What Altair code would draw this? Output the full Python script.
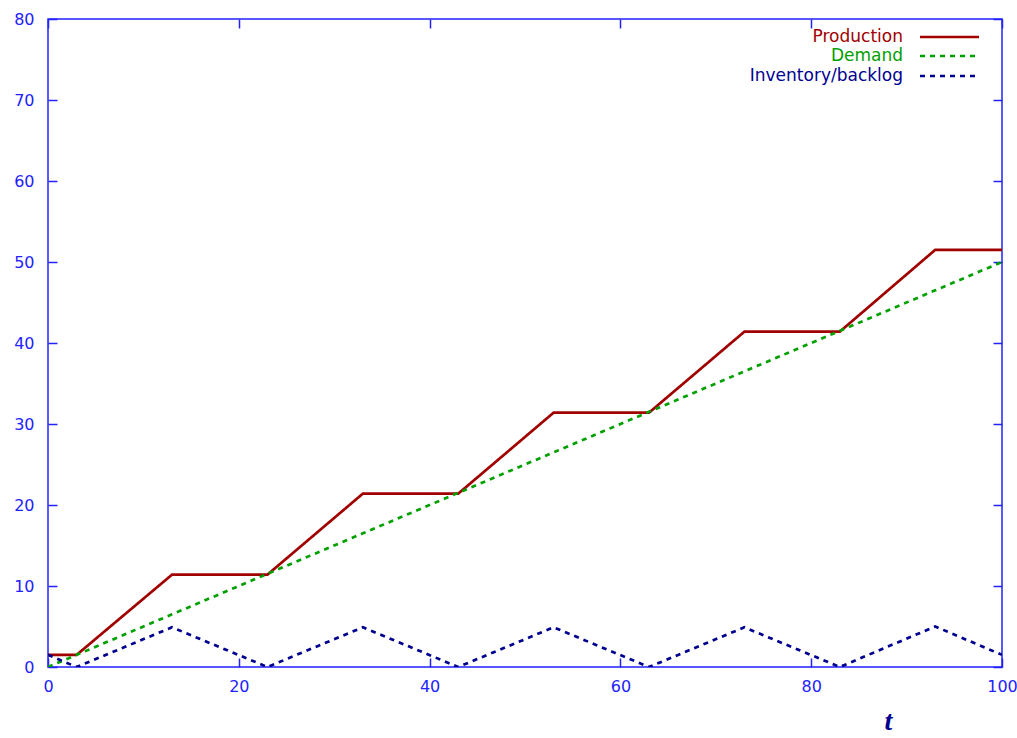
import altair as alt
import pandas as pd

# Time knots where the curves change slope, and the values read at each knot
t_knots = [0, 3, 13, 23, 33, 43, 53, 63, 73, 83, 93, 100]
production = [1.5, 1.5, 11.4, 11.4, 21.4, 21.4, 31.4, 31.4, 41.4, 41.4, 51.5, 51.5]
demand = [0, 1.5, 6.5, 11.5, 16.5, 21.5, 26.5, 31.5, 36.5, 41.5, 46.5, 50]
inventory = [1.5, 0, 4.9, 0, 4.9, 0, 4.9, 0, 4.9, 0, 5.0, 1.5]

series_names = ["Production", "Demand", "Inventory/backlog"]
series_values = [production, demand, inventory]
series_colors = ["#a00000", "#00a000", "#000090"]
series_dash = [[1, 0], [5, 5], [5, 5]]

x_ticks = [0, 20, 40, 60, 80, 100]
y_ticks = [0, 10, 20, 30, 40, 50, 60, 70, 80]

AXIS_BLUE = "#2222ff"
FONT = "DejaVu Sans"
W, H = 954, 648

x_scale = alt.Scale(domain=[0, 100], nice=False, zero=False)
y_scale = alt.Scale(domain=[0, 80], nice=False, zero=False)

common = dict(domain=False, grid=False, tickSize=9, tickWidth=1.5,
              tickColor=AXIS_BLUE, offset=-9, labelFlush=False,
              labelOverlap=False)

bottom_axis = alt.Axis(orient="bottom", values=x_ticks, labelColor=AXIS_BLUE,
                       labelFont=FONT, labelFontSize=16, labelPadding=11,
                       title="t", titleFont="Liberation Serif", titleFontSize=28,
                       titleFontStyle="italic", titleFontWeight="bold",
                       titleColor="#000090", titleX=840, titleY=71,
                       titleAlign="center", titleBaseline="alphabetic",
                       **common)
left_axis = alt.Axis(orient="left", values=y_ticks, labelColor=AXIS_BLUE,
                     labelFont=FONT, labelFontSize=16, labelPadding=14,
                     title=None, **common)
top_axis = alt.Axis(orient="top", values=x_ticks, labels=False, title=None, **common)
right_axis = alt.Axis(orient="right", values=y_ticks, labels=False, title=None, **common)

axes_for_layer = [(bottom_axis, left_axis), (top_axis, right_axis), (None, None)]

layers = []
for name, vals, color, dash, (ax_x, ax_y) in zip(series_names, series_values,
                                                  series_colors, series_dash,
                                                  axes_for_layer):
    df = pd.DataFrame({"t": t_knots, "v": vals})
    layers.append(
        alt.Chart(df).mark_line(color=color, strokeWidth=2.7, strokeDash=dash,
                                clip=True)
        .encode(x=alt.X("t:Q", scale=x_scale, axis=ax_x),
                y=alt.Y("v:Q", scale=y_scale, axis=ax_y))
    )

# Key in the upper right corner: label on the left, line sample on the right
one_row = pd.DataFrame({"k": [0]})
key_rows = [18, 37, 57]
for name, color, dash, ky in zip(series_names, series_colors, series_dash, key_rows):
    layers.append(
        alt.Chart(one_row).mark_text(text=name, color=color, font=FONT, fontSize=17,
                                     align="right", baseline="middle")
        .encode(x=alt.value(855), y=alt.value(ky))
    )
    layers.append(
        alt.Chart(one_row).mark_rule(color=color, strokeWidth=2.7, strokeDash=dash)
        .encode(x=alt.value(872), x2=alt.value(931), y=alt.value(ky))
    )

chart = (
    alt.layer(*layers)
    .resolve_axis(x="independent", y="independent")
    .properties(width=W, height=H,
                padding={"left": 48, "top": 19, "right": 15, "bottom": 71},
                autosize=alt.AutoSizeParams(type="none"),
                background="white")
    .configure_view(stroke=AXIS_BLUE, strokeWidth=1.5)
)

chart.save("out.html", embed_options={"renderer": "svg", "actions": False})
